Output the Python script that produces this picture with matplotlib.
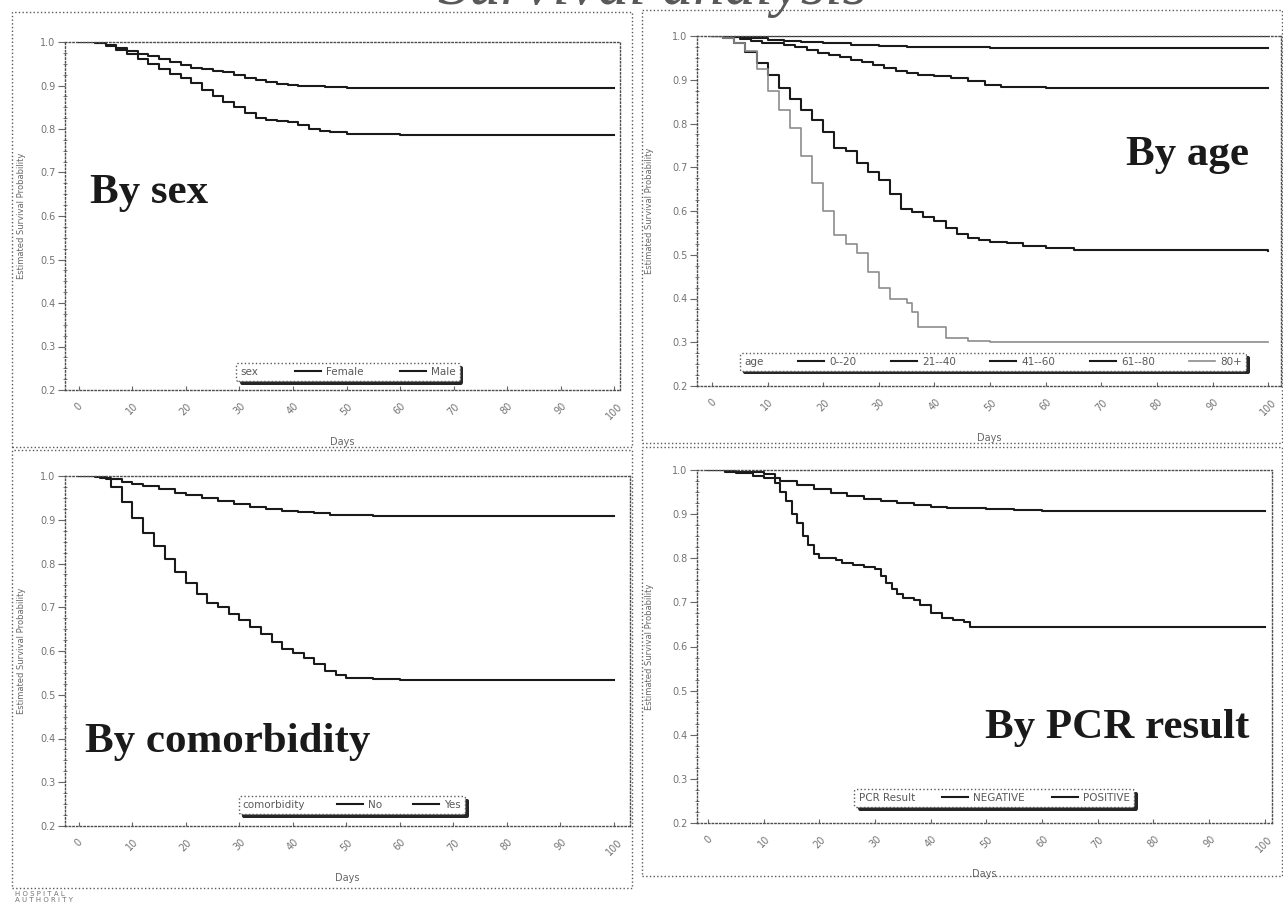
import matplotlib.pyplot as plt
import matplotlib.patheffects as pe
from matplotlib.patches import Rectangle
from matplotlib.offsetbox import HPacker
from matplotlib.ticker import MultipleLocator

# --- data ---
x_ticks = [0, 10, 20, 30, 40, 50, 60, 70, 80, 90, 100]

# by sex
female_days = [0, 3, 5, 7, 9, 11, 13, 15, 17, 19, 21, 23, 25, 27, 29, 31, 33, 35, 37, 39, 41, 43, 46, 50, 55, 100]
female_surv = [1.0, 0.998, 0.992, 0.986, 0.980, 0.973, 0.967, 0.960, 0.953, 0.947, 0.941, 0.937, 0.934, 0.930,
               0.924, 0.918, 0.912, 0.907, 0.904, 0.901, 0.899, 0.898, 0.896, 0.895, 0.894, 0.894]
male_days = [0, 3, 5, 7, 9, 11, 13, 15, 17, 19, 21, 23, 25, 27, 29, 31, 33, 35, 37, 39, 41, 43, 45, 47, 50, 55, 60, 100]
male_surv = [1.0, 0.997, 0.990, 0.982, 0.972, 0.961, 0.950, 0.938, 0.927, 0.917, 0.905, 0.890, 0.876, 0.862,
             0.850, 0.836, 0.826, 0.821, 0.818, 0.816, 0.810, 0.801, 0.796, 0.792, 0.789, 0.788, 0.787, 0.787]

# by age
age_labels = ['0--20', '21--40', '41--60', '61--80', '80+']
age0_days = [0, 100]
age0_surv = [1.0, 1.0]
age1_days = [0, 4, 7, 10, 13, 16, 20, 25, 30, 35, 40, 50, 100]
age1_surv = [1.0, 0.998, 0.995, 0.992, 0.989, 0.986, 0.983, 0.980, 0.978, 0.976, 0.974, 0.973, 0.973]
age2_days = [0, 3, 5, 7, 9, 11, 13, 15, 17, 19, 21, 23, 25, 27, 29, 31, 33, 35, 37, 40, 43, 46, 49, 52, 55, 60, 100]
age2_surv = [1.0, 0.997, 0.993, 0.988, 0.985, 0.983, 0.980, 0.975, 0.968, 0.962, 0.957, 0.951, 0.945, 0.940,
             0.934, 0.927, 0.921, 0.916, 0.912, 0.908, 0.904, 0.897, 0.888, 0.884, 0.883, 0.882, 0.882]
age3_days = [0, 2, 4, 6, 8, 10, 12, 14, 16, 18, 20, 22, 24, 26, 28, 30, 32, 34, 36, 38, 40, 42, 44, 46, 48, 50,
             53, 56, 60, 65, 70, 100]
age3_surv = [1.0, 0.995, 0.983, 0.964, 0.938, 0.910, 0.882, 0.855, 0.830, 0.808, 0.780, 0.745, 0.738, 0.710,
             0.690, 0.672, 0.640, 0.605, 0.598, 0.587, 0.578, 0.562, 0.548, 0.538, 0.533, 0.530, 0.526, 0.521,
             0.516, 0.512, 0.510, 0.508]
age4_days = [0, 2, 4, 6, 8, 10, 12, 14, 16, 18, 20, 22, 24, 26, 28, 30, 32, 35, 36, 37, 42, 46, 50, 100]
age4_surv = [1.0, 0.995, 0.985, 0.966, 0.925, 0.875, 0.830, 0.790, 0.725, 0.665, 0.600, 0.545, 0.525, 0.505,
             0.460, 0.425, 0.398, 0.390, 0.370, 0.335, 0.310, 0.304, 0.300, 0.300]

# by comorbidity
como_no_days = [0, 3, 5, 8, 10, 12, 15, 18, 20, 23, 26, 29, 32, 35, 38, 41, 44, 47, 50, 55, 60, 100]
como_no_surv = [1.0, 0.997, 0.993, 0.987, 0.982, 0.977, 0.970, 0.962, 0.957, 0.950, 0.943, 0.936, 0.929,
                0.924, 0.920, 0.918, 0.915, 0.912, 0.910, 0.909, 0.908, 0.908]
como_yes_days = [0, 4, 6, 8, 10, 12, 14, 16, 18, 20, 22, 24, 26, 28, 30, 32, 34, 36, 38, 40, 42, 44, 46, 48,
                 50, 55, 60, 100]
como_yes_surv = [1.0, 0.995, 0.975, 0.940, 0.905, 0.870, 0.840, 0.810, 0.780, 0.755, 0.730, 0.710, 0.700,
                 0.685, 0.670, 0.655, 0.640, 0.620, 0.605, 0.595, 0.585, 0.570, 0.555, 0.545, 0.538, 0.535,
                 0.533, 0.533]

# by PCR result
neg_days = [0, 3, 5, 8, 10, 13, 16, 19, 22, 25, 28, 31, 34, 37, 40, 43, 46, 50, 55, 60, 100]
neg_surv = [1.0, 0.997, 0.993, 0.987, 0.982, 0.975, 0.967, 0.958, 0.949, 0.942, 0.935, 0.929, 0.925, 0.920,
            0.917, 0.915, 0.913, 0.911, 0.909, 0.907, 0.907]
pos_days = [0, 3, 10, 12, 13, 14, 15, 16, 17, 18, 19, 20, 23, 24, 26, 28, 30, 31, 32, 33, 34, 35, 37, 38, 40,
            42, 44, 46, 47, 100]
pos_surv = [1.0, 0.995, 0.990, 0.970, 0.950, 0.930, 0.900, 0.880, 0.850, 0.830, 0.810, 0.800, 0.795, 0.790,
            0.785, 0.780, 0.775, 0.760, 0.745, 0.730, 0.720, 0.710, 0.705, 0.695, 0.675, 0.665, 0.660, 0.655,
            0.645, 0.645]

W, H = 1283, 908
fig = plt.figure(figsize=(W / 100, H / 100), dpi=100)


def px_box(l, t, r, b):
    return [l / W, 1 - b / H, (r - l) / W, (b - t) / H]


def frame(l, t, r, b):
    fig.add_artist(Rectangle((l / W, 1 - b / H), (r - l) / W, (b - t) / H, transform=fig.transFigure,
                             fill=False, ls=':', lw=1.0, ec='0.35'))


def make_axes(box, xlim, ylab_px, xlab_px):
    ax = fig.add_axes(px_box(*box))
    ax.set_xlim(*xlim)
    ax.set_ylim(0.2, 1.0)
    ax.set_xticks(x_ticks)
    ax.set_xticklabels([str(t) for t in x_ticks], rotation=45, ha='center')
    ax.yaxis.set_major_locator(MultipleLocator(0.1))
    ax.yaxis.set_minor_locator(MultipleLocator(0.025))
    ax.yaxis.set_major_formatter(lambda v, p: f'{v:.1f}')
    ax.tick_params(axis='x', direction='in', length=3, labelsize=7, labelcolor='0.45', color='0.4', pad=8)
    ax.tick_params(axis='y', which='major', direction='out', length=5, labelsize=7, labelcolor='0.45',
                   color='0.4', pad=2)
    ax.tick_params(axis='y', which='minor', direction='inout', length=3, color='0.4')
    for s in ax.spines.values():
        s.set_linestyle(':')
        s.set_color('0.3')
        s.set_linewidth(1.0)
    width = box[2] - box[0]
    height = box[3] - box[1]
    ax.set_ylabel('Estimated Survival Probability', fontsize=6, color='0.4')
    ax.yaxis.set_label_coords(-ylab_px / width, 0.5)
    ax.set_xlabel('Days', fontsize=7, color='0.4')
    ax.xaxis.set_label_coords(0.5, -xlab_px / height)
    return ax


def add_legend(ax, title, handles, labels, center, colsp):
    leg = ax.legend(handles, labels, title=title, ncol=len(handles), loc='center', bbox_to_anchor=center,
                    fontsize=7.5, title_fontsize=7.5, frameon=True, fancybox=True, shadow=False,
                    handlelength=2.5, handletextpad=0.5, columnspacing=colsp, borderpad=0.4,
                    edgecolor='0.35', framealpha=1)
    fr = leg.get_frame()
    fr.set_linestyle(':')
    fr.set_path_effects([pe.withSimplePatchShadow(offset=(2.5, -2.5), shadow_rgbFace='0.15', alpha=1.0)])
    for t in leg.get_texts():
        t.set_color('0.35')
    leg.get_title().set_color('0.35')
    fs = leg._fontsize
    # put the legend title on the left of the entries, as in the SAS output
    box = HPacker(pad=leg.borderpad * fs, sep=colsp * fs, align='center',
                  children=[leg._legend_title_box, leg._legend_handle_box])
    box.set_figure(fig)
    box.axes = ax
    box.set_offset(leg._findoffset)
    leg._legend_box = box
    return leg


def km(ax, d, s, **kw):
    kw.setdefault('color', '0.1')
    kw.setdefault('lw', 1.5)
    return ax.plot(d, s, drawstyle='steps-post', **kw)[0]


big = dict(fontsize=31, fontweight='bold', family='Liberation Serif', color='0.1', va='center')

# panel frames
frame(12, 12, 632, 447)
frame(642, 10, 1282, 443)
frame(12, 450, 632, 888)
frame(642, 447, 1282, 876)

# by sex
ax1 = make_axes((65, 42, 620, 390), (-2.6, 101.1), 39, 47)
l1 = km(ax1, female_days, female_surv)
l2 = km(ax1, male_days, male_surv)
add_legend(ax1, 'sex', [l1, l2], ['Female', 'Male'], (0.51, 0.052), 3.5)
ax1.text(0.045, 0.566, 'By sex', transform=ax1.transAxes, ha='left', **big)

# by age
ax2 = make_axes((697, 36, 1281, 386), (-2.7, 102.3), 43, 47)
age_lines = [
    km(ax2, age0_days, age0_surv),
    km(ax2, age1_days, age1_surv),
    km(ax2, age2_days, age2_surv),
    km(ax2, age3_days, age3_surv),
    km(ax2, age4_days, age4_surv, color='0.55', lw=1.2),
]
add_legend(ax2, 'age', age_lines, age_labels, (0.507, 0.069), 3.3)
ax2.text(0.945, 0.66, 'By age', transform=ax2.transAxes, ha='right', **big)

# by comorbidity
ax3 = make_axes((65, 476, 630, 826), (-2.6, 103.0), 39, 47)
l5 = km(ax3, como_no_days, como_no_surv)
l6 = km(ax3, como_yes_days, como_yes_surv)
add_legend(ax3, 'comorbidity', [l5, l6], ['No', 'Yes'], (0.508, 0.06), 3.0)
ax3.text(0.035, 0.24, 'By comorbidity', transform=ax3.transAxes, ha='left', **big)

# by PCR result
ax4 = make_axes((697, 470, 1272, 823), (-2.0, 101.3), 43, 46)
l7 = km(ax4, neg_days, neg_surv)
l8 = km(ax4, pos_days, pos_surv)
add_legend(ax4, 'PCR Result', [l7, l8], ['NEGATIVE', 'POSITIVE'], (0.517, 0.071), 2.6)
ax4.text(0.96, 0.27, 'By PCR result', transform=ax4.transAxes, ha='right', **big)

# title, mostly cut off at the top of the scan
fig.text(652 / W, 1 - 4 / H, 'Survival analysis', ha='center', va='baseline', fontsize=45,
         family='Liberation Serif', style='italic', color='0.35')

fig.text(15 / W, 1 - 891 / H, 'H O S P I T A L\nA U T H O R I T Y', ha='left', va='top', fontsize=5,
         color='0.45', linespacing=1.0)

fig.savefig('out.png', dpi=100)
